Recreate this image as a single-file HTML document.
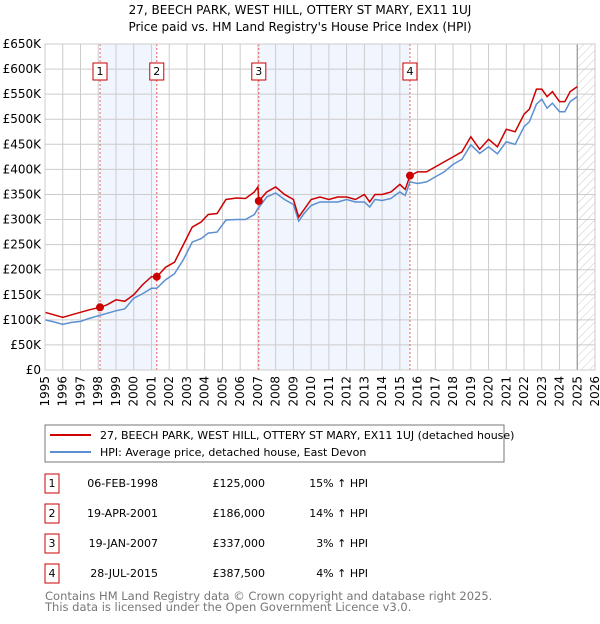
<!DOCTYPE html>
<html><head><meta charset="utf-8"><style>
body{margin:0;background:#fff;font-family:"DejaVu Sans","Liberation Sans",sans-serif;}
svg text{font-family:"DejaVu Sans","Liberation Sans",sans-serif;}
</style></head><body>
<svg id="chart" width="600" height="620" xmlns="http://www.w3.org/2000/svg">
<defs><pattern id="hatch" width="6" height="6" patternUnits="userSpaceOnUse" patternTransform="rotate(45)"><line x1="0" y1="0" x2="0" y2="6" stroke="#bbb" stroke-width="0.8"/></pattern></defs>
<text x="300" y="14" text-anchor="middle" font-size="12">27, BEECH PARK, WEST HILL, OTTERY ST MARY, EX11 1UJ</text>
<text x="300" y="31" text-anchor="middle" font-size="12">Price paid vs. HM Land Registry's House Price Index (HPI)</text>
<g id="plot"></g>
<rect x="45" y="425" width="459" height="37" fill="#fff" stroke="#777"/>
<line x1="50" y1="435" x2="91" y2="435" stroke="#cc0000" stroke-width="2"/>
<text x="100" y="439" font-size="11">27, BEECH PARK, WEST HILL, OTTERY ST MARY, EX11 1UJ (detached house)</text>
<line x1="50" y1="452" x2="91" y2="452" stroke="#5b8fd0" stroke-width="2"/>
<text x="100" y="456" font-size="11">HPI: Average price, detached house, East Devon</text>
<g id="table" font-size="11"></g>
<text x="45" y="600" font-size="11.5" fill="#777">Contains HM Land Registry data © Crown copyright and database right 2025.</text>
<text x="45" y="611" font-size="11.5" fill="#777">This data is licensed under the Open Government Licence v3.0.</text>
</svg>
<script>
const years=[1995,1995.5,1996,1996.5,1997,1997.5,1998.1,1998.5,1999,1999.5,2000,2000.5,2001,2001.3,2001.8,2002.3,2002.8,2003.3,2003.8,2004.2,2004.7,2005.2,2005.8,2006.3,2006.8,2007.0,2007.05,2007.5,2008,2008.5,2009,2009.3,2009.6,2010,2010.5,2011,2011.5,2012,2012.5,2013,2013.3,2013.6,2014,2014.5,2015,2015.3,2015.57,2016,2016.5,2017,2017.5,2018,2018.5,2019,2019.5,2020,2020.5,2021,2021.5,2022,2022.3,2022.7,2023,2023.3,2023.6,2024,2024.3,2024.6,2025];
const priceSeries=[115,110,105,110,115,120,125,130,140,137,150,170,186,186,205,215,250,285,295,310,312,340,343,342,355,365,337,355,365,350,340,305,320,340,345,340,345,345,340,350,335,350,350,355,370,360,387,395,395,405,415,425,435,465,440,460,445,480,475,510,520,560,560,545,555,535,535,555,565];
const hpiSeries=[100,96,91,95,97,103,109,113,118,122,143,152,163,163,180,192,220,255,262,273,275,299,300,300,310,322,324,345,353,340,330,297,312,328,335,335,335,340,335,335,325,340,338,342,355,348,375,372,375,385,395,410,420,449,432,445,431,455,450,485,495,530,540,522,532,515,515,535,545];
const yTicks=[0,50,100,150,200,250,300,350,400,450,500,550,600,650];
const yLabels=["£0","£50K","£100K","£150K","£200K","£250K","£300K","£350K","£400K","£450K","£500K","£550K","£600K","£650K"];
const xTicks=[1995,1996,1997,1998,1999,2000,2001,2002,2003,2004,2005,2006,2007,2008,2009,2010,2011,2012,2013,2014,2015,2016,2017,2018,2019,2020,2021,2022,2023,2024,2025,2026];
const saleIds=["1","2","3","4"];
const saleYears=[1998.1,2001.3,2007.05,2015.57];
const salePrices=[125,186,337,387.5];
const saleDates=["06-FEB-1998","19-APR-2001","19-JAN-2007","28-JUL-2015"];
const salePriceLabels=["£125,000","£186,000","£337,000","£387,500"];
const saleDiffs=["15% ↑ HPI","14% ↑ HPI","3% ↑ HPI","4% ↑ HPI"];

const X0=45,X1=595,Y0=370,Y1=44;
const xs=y=>X0+(y-1995)/(2026-1995)*(X1-X0);
const ys=v=>Y0-v/650*(Y0-Y1);
const NS="http://www.w3.org/2000/svg";
const plot=document.getElementById('plot');
function mk(tag,attrs,parent){const e=document.createElementNS(NS,tag);for(const k in attrs)e.setAttribute(k,attrs[k]);(parent||plot).appendChild(e);return e;}

let r=mk('rect',{x:X0,y:Y1,width:X1-X0,height:Y0-Y1,fill:'#fff'});


// shaded ownership periods
for(let i=0;i<saleYears.length;i+=2){
  const a=saleYears[i],b=saleYears[i+1];
  const s=mk('rect',{x:xs(a),y:Y1,width:xs(b)-xs(a),height:Y0-Y1,fill:'#eef3fd',opacity:0.8});
  
  
}
const h=mk('rect',{x:xs(2025),y:Y1,width:X1-xs(2025),height:Y0-Y1,fill:'url(#hatch)'});


yTicks.forEach((v,i)=>{
  const g=mk('line',{x1:X0,x2:X1,y1:ys(v),y2:ys(v),stroke:'#ccc','stroke-width':1});
  
  
  const t=mk('text',{x:X0-4,y:ys(v)+4,'text-anchor':'end','font-size':12});
  t.textContent=yLabels[i];
  
  
});
xTicks.forEach(y=>{
  const g=mk('line',{x1:xs(y),x2:xs(y),y1:Y1,y2:Y0,stroke:'#ccc','stroke-width':1});
  
  
  const t=mk('text',{x:0,y:0,'text-anchor':'end','font-size':12,transform:`translate(${xs(y)+4},${Y0+6}) rotate(-90)`});
  t.textContent=y;
  
  
});
const fl=mk('line',{x1:xs(2025),x2:xs(2025),y1:Y1,y2:Y0,stroke:'#999','stroke-width':1.2});


saleYears.forEach((y,i)=>{
  const l=mk('line',{x1:xs(y),x2:xs(y),y1:Y1,y2:Y0,stroke:'#f06060','stroke-width':1,'stroke-dasharray':'2,2'});
  
  
  const b=mk('rect',{x:xs(y)-7,y:63,width:14,height:17,fill:'#fff',stroke:'#cc0000'});
  
  
  const t=mk('text',{x:xs(y),y:75,'text-anchor':'middle','font-size':11});
  t.textContent=saleIds[i];
  
  
});
const hp=mk('polyline',{points:years.map((y,i)=>xs(y)+','+ys(hpiSeries[i])).join(' '),fill:'none',stroke:'#5b8fd0','stroke-width':1.5});


const pp=mk('polyline',{points:years.map((y,i)=>xs(y)+','+ys(priceSeries[i])).join(' '),fill:'none',stroke:'#cc0000','stroke-width':1.5});


saleYears.forEach((y,i)=>{
  const c=mk('circle',{cx:xs(y),cy:ys(salePrices[i]),r:4,fill:'#cc0000'});
  
  
});
const fr=mk('rect',{x:X0,y:Y1,width:X1-X0,height:Y0-Y1,fill:'none',stroke:'#ccc'});



const tb=document.getElementById('table');
const rowY=[483,513,543,573];
saleIds.forEach((id,i)=>{
  const y=rowY[i];
  const b=mk('rect',{x:45,y:y-9,width:14,height:19,fill:'#fff',stroke:'#cc0000'},tb);
  
  
  const t0=mk('text',{x:52,y:y+4,'text-anchor':'middle'},tb);t0.textContent=id;
  
  
  const t1=mk('text',{x:158,y:y+4,'text-anchor':'end'},tb);t1.textContent=saleDates[i];
  
  
  const t2=mk('text',{x:265,y:y+4,'text-anchor':'end'},tb);t2.textContent=salePriceLabels[i];
  
  
  const t3=mk('text',{x:368,y:y+4,'text-anchor':'end'},tb);t3.textContent=saleDiffs[i];
  
  
});
</script>
</body></html>
